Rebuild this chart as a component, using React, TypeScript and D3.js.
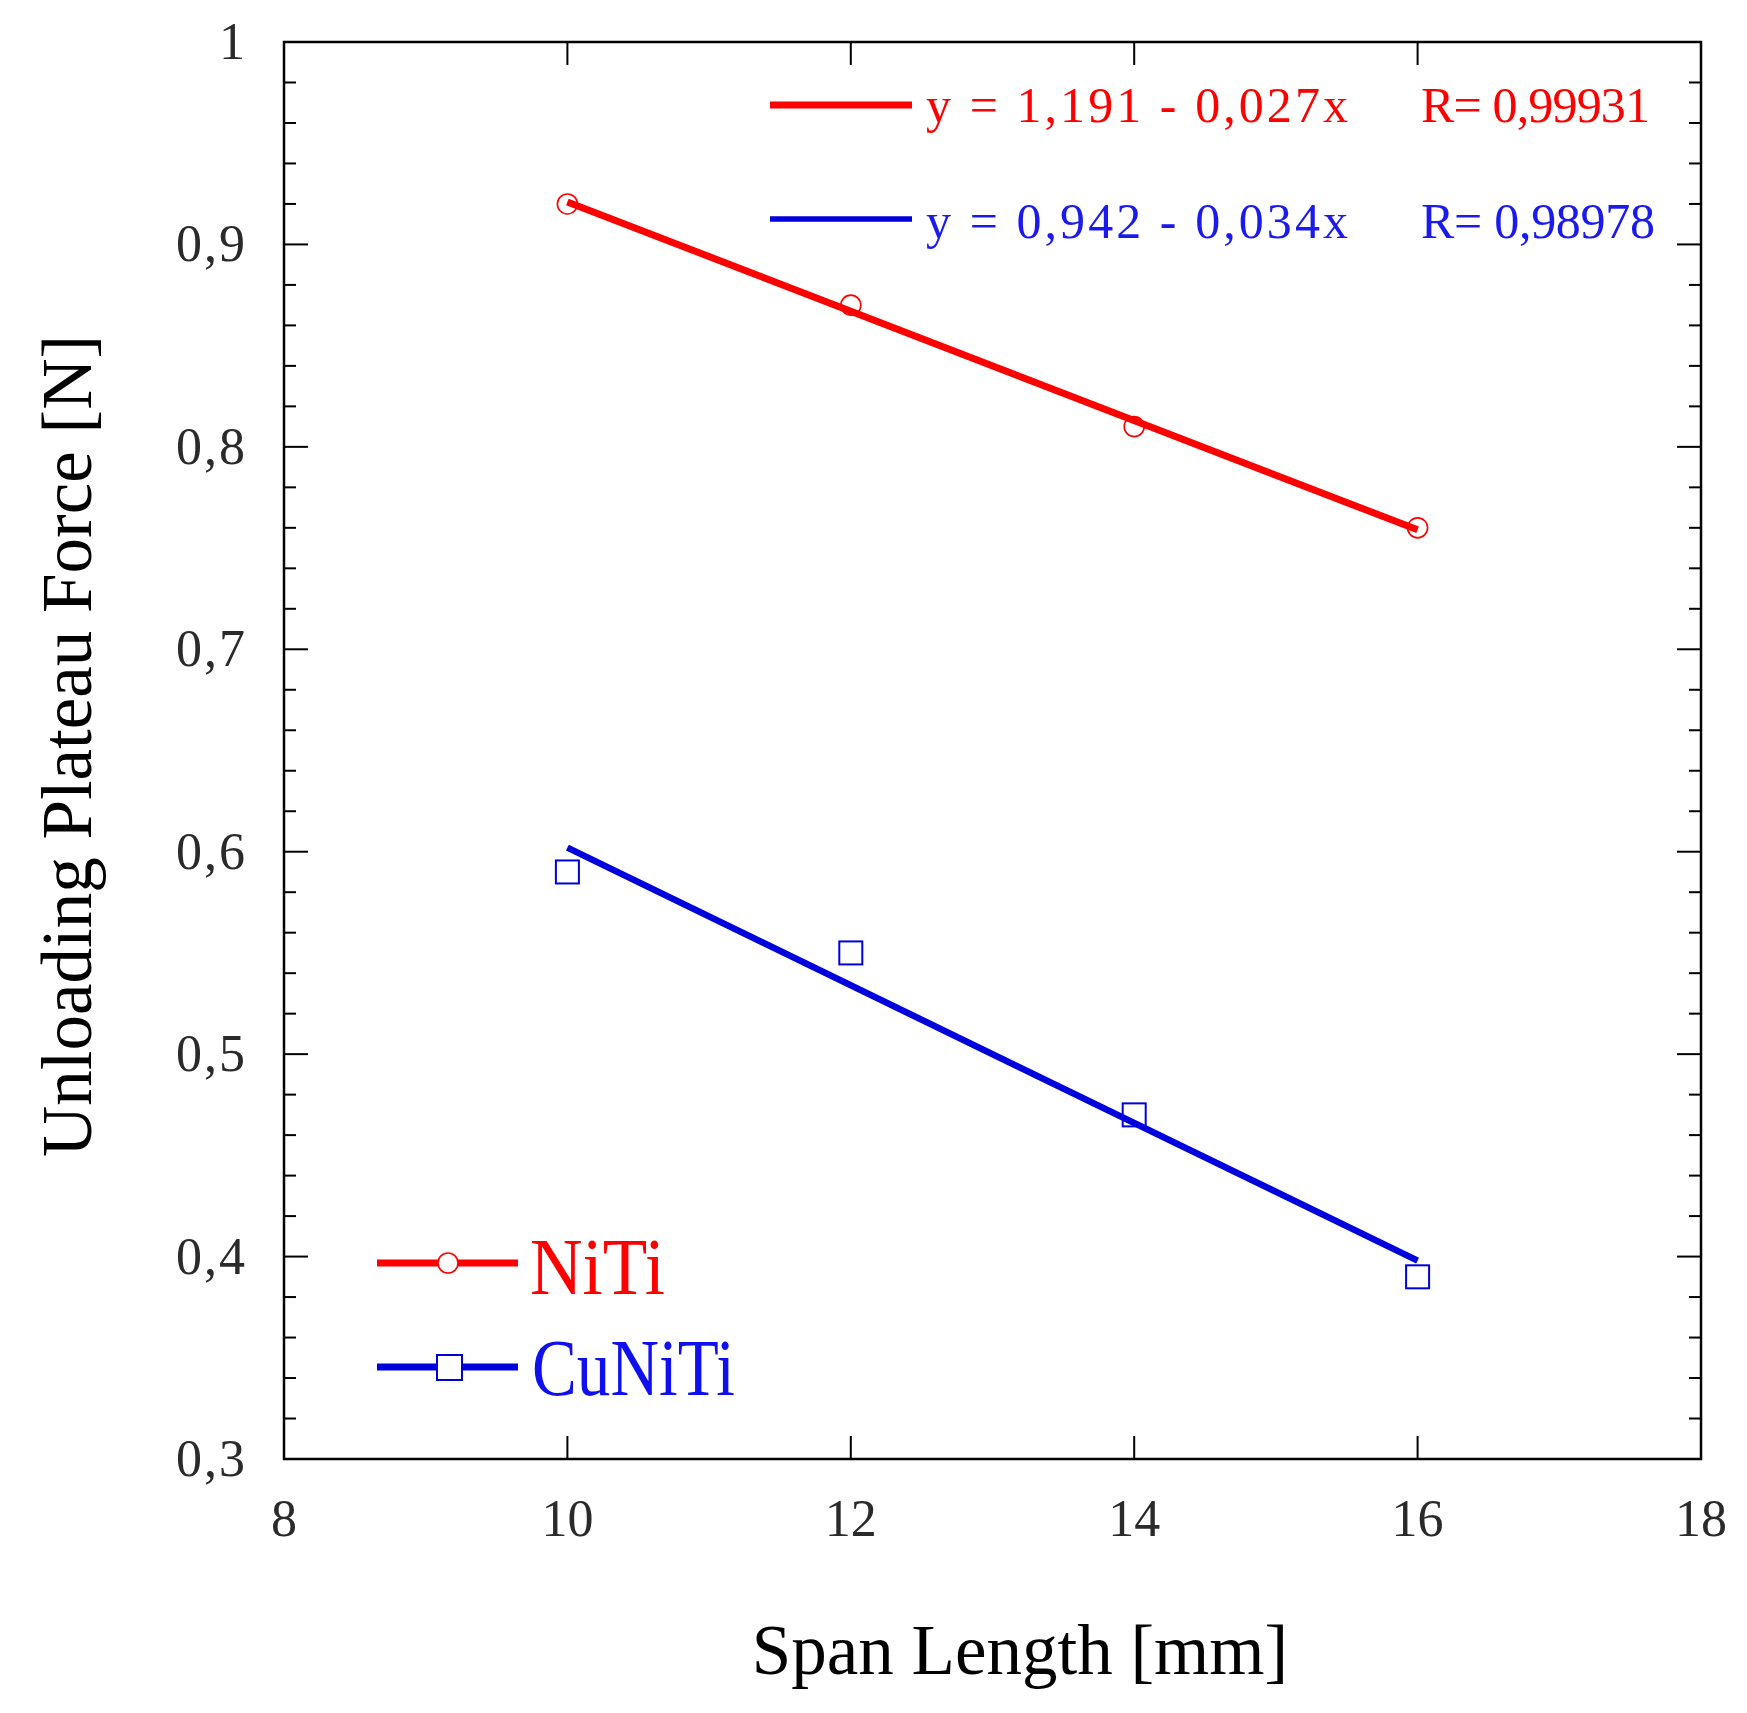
import { useEffect } from "react";
import * as d3 from "d3";

// measured span lengths [mm] and unloading plateau forces [N]
const spans = [10, 12, 14, 16];
const nitiForce = [0.92, 0.87, 0.81, 0.76];
const cuNitiForce = [0.59, 0.55, 0.47, 0.39];

// linear fits as printed in the chart
const nitiFit = { a: 1.191, b: -0.027, label: "y = 1,191 - 0,027x", r: "R= 0,99931" };
const cuNitiFit = { a: 0.942, b: -0.034, label: "y = 0,942 - 0,034x", r: "R= 0,98978" };

const xDomain = [8, 18];
const yDomain = [0.3, 1];

const W = 1747;
const H = 1713;
const RED = "#ff0000";
const BLUE = "#0000dd";
const SERIF = "'Liberation Serif', 'DejaVu Serif', serif";

const fmt = (d: number) => String(+d.toFixed(1)).replace(".", ",");

export default function App() {
  useEffect(() => {
    document.body.style.margin = "0";
  }, []);

  const x = d3.scaleLinear().domain(xDomain).range([284, 1701]);
  const y = d3.scaleLinear().domain(yDomain).range([1459, 42]);

  const xTicks = x.ticks(5);
  const yMajor = y.ticks(7);
  const yMinor = y.ticks(35).filter(t => !yMajor.some(m => Math.abs(m - t) < 1e-9));

  const fitLine = (f: { a: number; b: number }) => {
    const x0 = d3.min(spans)!;
    const x1 = d3.max(spans)!;
    return d3.line<number>()
      .x(d => x(d))
      .y(d => y(f.a + f.b * d))([x0, x1]) || "";
  };

  const [x0, x1] = x.range();
  const [yb, yt] = y.range();

  return (
    <svg width={W} height={H} style={{ display: "block", background: "#fff" }} fontFamily={SERIF}>
      {/* fit lines */}
      <path d={fitLine(nitiFit)} stroke={RED} strokeWidth={7} fill="none" />
      <path d={fitLine(cuNitiFit)} stroke={BLUE} strokeWidth={6.5} fill="none" />

      {/* markers */}
      {spans.map((s, i) => (
        <circle key={"n" + i} cx={x(s)} cy={y(nitiForce[i])} r={10} fill="none" stroke={RED} strokeWidth={1.6} />
      ))}
      {spans.map((s, i) => (
        <rect key={"c" + i} x={x(s) - 11.5} y={y(cuNitiForce[i]) - 11.5} width={23} height={23} fill="none" stroke={BLUE} strokeWidth={2} />
      ))}

      {/* frame */}
      <rect x={x0} y={yt} width={x1 - x0} height={yb - yt} fill="none" stroke="#000" strokeWidth={2.5} />

      {/* x ticks, bottom and top */}
      {xTicks.map(t => (
        <g key={"xt" + t}>
          <line x1={x(t)} x2={x(t)} y1={yb} y2={yb - 23} stroke="#000" strokeWidth={2} />
          <line x1={x(t)} x2={x(t)} y1={yt} y2={yt + 23} stroke="#000" strokeWidth={2} />
          <text x={x(t)} y={1536} textAnchor="middle" fontSize={52} fill="#2a2a2a">{fmt(t)}</text>
        </g>
      ))}

      {/* y ticks, left and right */}
      {yMajor.map(t => (
        <g key={"ym" + t}>
          <line x1={x0} x2={x0 + 24} y1={y(t)} y2={y(t)} stroke="#000" strokeWidth={2} />
          <line x1={x1} x2={x1 - 24} y1={y(t)} y2={y(t)} stroke="#000" strokeWidth={2} />
          <text x={247} y={y(t) + 17} textAnchor="end" fontSize={52} letterSpacing={2} fill="#2a2a2a">{fmt(t)}</text>
        </g>
      ))}
      {yMinor.map(t => (
        <g key={"yn" + t}>
          <line x1={x0} x2={x0 + 12} y1={y(t)} y2={y(t)} stroke="#000" strokeWidth={2} />
          <line x1={x1} x2={x1 - 12} y1={y(t)} y2={y(t)} stroke="#000" strokeWidth={2} />
        </g>
      ))}

      {/* axis titles */}
      <text x={1020} y={1674} textAnchor="middle" fontSize={71} fill="#000">Span Length [mm]</text>
      <text transform="translate(91,746) rotate(-90)" textAnchor="middle" fontSize={71} fill="#000">
        Unloading Plateau Force [N]
      </text>

      {/* fit legend, top right */}
      <line x1={770} x2={912} y1={105} y2={105} stroke={RED} strokeWidth={7} />
      <text x={926} y={122} fontSize={50} fill={RED} textLength={422} lengthAdjust="spacing">{nitiFit.label}</text>
      <text x={1421} y={122} fontSize={50} fill={RED} textLength={229} lengthAdjust="spacing">{nitiFit.r}</text>
      <line x1={770} x2={912} y1={219} y2={219} stroke={BLUE} strokeWidth={5.5} />
      <text x={926} y={238} fontSize={50} fill="#1a1aee" textLength={422} lengthAdjust="spacing">{cuNitiFit.label}</text>
      <text x={1421} y={238} fontSize={50} fill="#1a1aee" textLength={234} lengthAdjust="spacing">{cuNitiFit.r}</text>

      {/* series legend, bottom left */}
      <line x1={377} x2={518} y1={1263} y2={1263} stroke={RED} strokeWidth={7} />
      <circle cx={448} cy={1263} r={10} fill="#fff" stroke={RED} strokeWidth={1.6} />
      <text x={530} y={1294} fontSize={80} fill={RED} textLength={135} lengthAdjust="spacingAndGlyphs">NiTi</text>
      <line x1={377} x2={518} y1={1367} y2={1367} stroke={BLUE} strokeWidth={7} />
      <rect x={437} y={1355} width={25} height={25} fill="#fff" stroke={BLUE} strokeWidth={2} />
      <text x={532} y={1395} fontSize={80} fill="#1010ee" textLength={203} lengthAdjust="spacingAndGlyphs">CuNiTi</text>
    </svg>
  );
}
